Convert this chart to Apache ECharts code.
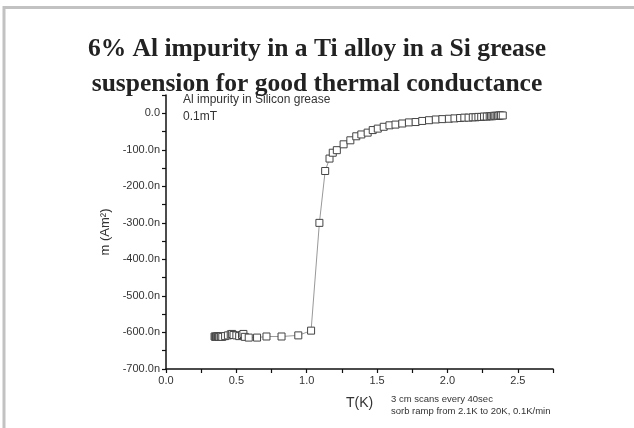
<!DOCTYPE html>
<html>
<head>
<meta charset="utf-8">
<script src="https://cdn.jsdelivr.net/npm/echarts@6/dist/echarts.min.js"></script>
<style>
  html, body { margin: 0; padding: 0; background: #fff; }
  #chart { width: 634px; height: 428px; }
</style>
</head>
<body>
<div id="chart"></div>
<script>
  // temperature (K) and moment (n Am^2)
  var tempK = [
    0.345, 0.35, 0.355, 0.36, 0.365, 0.37, 0.375, 0.38, 0.39, 0.40,
    0.42, 0.44, 0.46, 0.47, 0.48, 0.50, 0.52, 0.54, 0.55, 0.56,
    0.588, 0.647, 0.714, 0.821, 0.94, 1.031,
    1.09, 1.131, 1.162, 1.185, 1.214, 1.262, 1.31, 1.352, 1.388, 1.433,
    1.469, 1.505, 1.547, 1.588, 1.631, 1.679, 1.726, 1.774, 1.821, 1.869,
    1.917, 1.964, 2.01, 2.05, 2.09, 2.12, 2.15, 2.18, 2.20, 2.22,
    2.24, 2.26, 2.28, 2.30, 2.31, 2.32, 2.33, 2.34, 2.35, 2.36,
    2.37, 2.38, 2.393
  ]
  var moment = [
    -611, -612, -611, -612, -611, -612, -611, -612, -611, -612,
    -610, -608, -605, -604, -607, -608, -610, -607, -604, -612,
    -614, -614, -611, -611, -608, -595,
    -300, -158, -124, -108, -101, -85, -74, -63, -58, -53,
    -46, -42, -37, -33, -31, -28, -25, -24, -21, -19,
    -17, -16, -15, -14, -13, -12, -12, -11, -11, -10,
    -10, -9, -9, -8, -8, -8, -7, -7, -7, -7,
    -6, -6, -6
  ]
  var titleText = '6% Al impurity in a Ti alloy in a Si grease\nsuspension for good thermal conductance'
  var noteLines = ['Al impurity in Silicon grease', '0.1mT']
  var scanLines = ['3 cm scans every 40sec', 'sorb ramp from 2.1K to 20K, 0.1K/min']

  var points = tempK.map(function (t, i) { return [t, moment[i]] })

  var chart = echarts.init(document.getElementById('chart'))
  chart.setOption({
    animation: false,
    backgroundColor: '#fff',
    title: {
      text: titleText,
      left: 'center',
      top: 27,
      textStyle: {
        fontFamily: 'Liberation Serif',
        fontWeight: 'bold',
        fontSize: 25.5,
        lineHeight: 35,
        color: '#222'
      }
    },
    grid: {left: 166, right: 81, top: 95, bottom: 59},
    xAxis: {
      type: 'value',
      min: 0,
      max: 2.75,
      interval: 0.25,
      splitLine: {show: false},
      axisLine: {onZero: false, lineStyle: {color: '#111', width: 1.5}},
      axisTick: {length: 4, lineStyle: {color: '#111', width: 1.2}},
      axisLabel: {
        color: '#333', fontSize: 11, fontFamily: 'Liberation Sans', margin: 6,
        formatter: function (v) {
          if (Math.abs(v * 2 - Math.round(v * 2)) > 1e-6) return ''
          return v.toFixed(1)
        }
      }
    },
    yAxis: {
      type: 'value',
      min: -700,
      max: 50,
      interval: 50,
      splitLine: {show: false},
      name: 'm (Am²)',
      nameLocation: 'middle',
      nameRotate: 90,
      nameGap: 54,
      nameTextStyle: {color: '#333', fontSize: 13, fontFamily: 'Liberation Sans'},
      axisLine: {lineStyle: {color: '#111', width: 1.5}},
      axisTick: {length: 4, lineStyle: {color: '#111', width: 1.2}},
      axisLabel: {
        color: '#333', fontSize: 11, fontFamily: 'Liberation Sans', margin: 6,
        formatter: function (v) {
          if (v % 100 !== 0) return ''
          if (v === 0) return '0.0'
          return v.toFixed(1) + 'n'
        }
      }
    },
    graphic: [
      {type: 'line', shape: {x1: 3, y1: 7.5, x2: 634, y2: 7.5}, style: {stroke: '#c2c2c2', lineWidth: 3}},
      {type: 'line', shape: {x1: 4, y1: 6, x2: 4, y2: 428}, style: {stroke: '#c2c2c2', lineWidth: 3}},
      {type: 'text', left: 183, top: 91, style: {text: noteLines.join('\n'), fill: '#333', font: '12px "Liberation Sans"', lineHeight: 17}},
      {type: 'text', left: 346, top: 396, style: {text: 'T(K)', fill: '#333', font: '14px "Liberation Sans"'}},
      {type: 'text', left: 391, top: 393, style: {text: scanLines.join('\n'), fill: '#333', font: '9.5px "Liberation Sans"', lineHeight: 12}}
    ],
    series: [{
      type: 'line',
      data: points,
      symbol: 'rect',
      symbolSize: 7,
      showAllSymbol: true,
      lineStyle: {color: '#999', width: 1},
      itemStyle: {color: '#fff', borderColor: '#444', borderWidth: 1}
    }]
  })
</script>
</body>
</html>
